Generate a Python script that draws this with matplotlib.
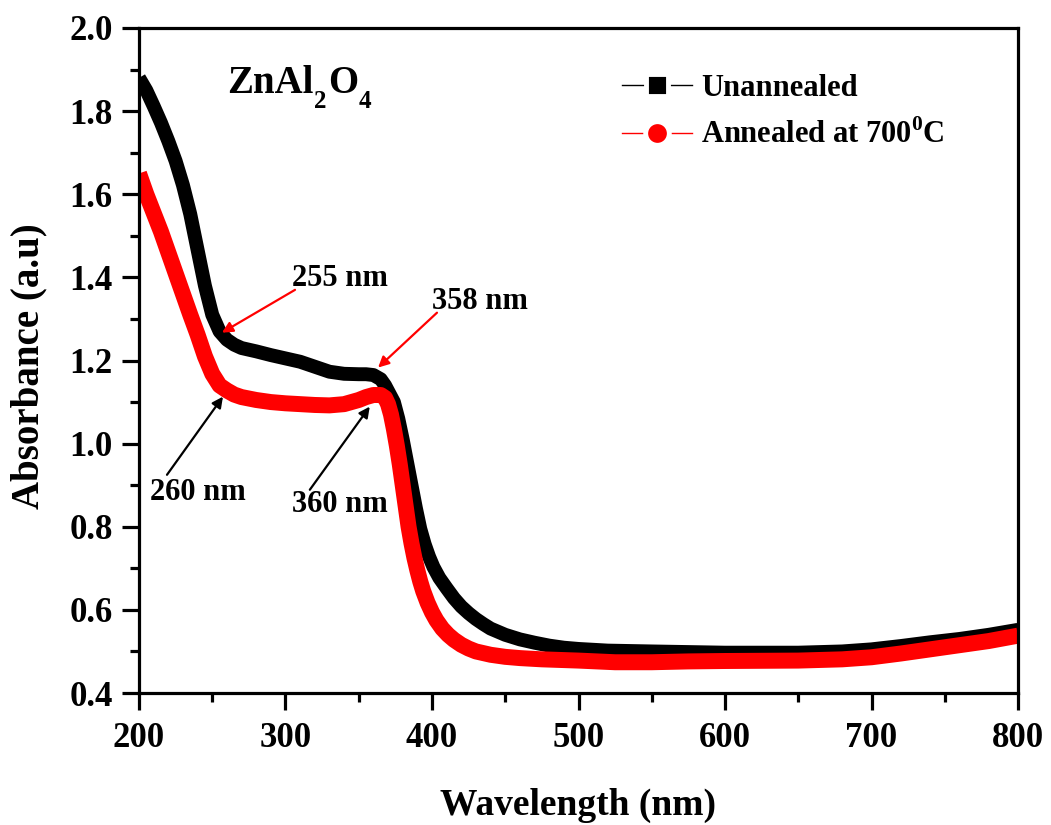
import matplotlib
matplotlib.use("Agg")
import matplotlib.pyplot as plt
from matplotlib.lines import Line2D
from matplotlib.ticker import MultipleLocator, FormatStrFormatter

plt.rcParams["font.family"] = ["Liberation Serif", "DejaVu Serif"]
plt.rcParams["font.weight"] = "bold"
plt.rcParams["mathtext.fontset"] = "custom"
plt.rcParams["mathtext.rm"] = "Liberation Serif:bold"
plt.rcParams["mathtext.bf"] = "Liberation Serif:bold"

W, H = 1051, 825

# unannealed (black)
wl_un = [200, 205, 210, 215, 220, 225, 230, 235, 240, 245, 250, 255, 260, 265,
         270, 280, 290, 300, 310, 320, 330, 340, 350, 355, 360, 365, 368, 371,
         374, 377, 380, 383, 386, 389, 392, 395, 398, 401, 405, 410, 415, 420,
         425, 430, 435, 440, 450, 460, 470, 480, 490, 500, 520, 550, 600, 650,
         680, 700, 720, 740, 760, 780, 800]
abs_un = [1.88, 1.85, 1.812, 1.772, 1.728, 1.68, 1.622, 1.552, 1.466, 1.38,
          1.31, 1.27, 1.25, 1.238, 1.23, 1.222, 1.213, 1.205, 1.197, 1.185,
          1.173, 1.168, 1.167, 1.167, 1.165, 1.155, 1.14, 1.12, 1.10, 1.06,
          1.01, 0.955, 0.90, 0.845, 0.795, 0.758, 0.728, 0.703, 0.677, 0.652,
          0.628, 0.608, 0.592, 0.578, 0.566, 0.555, 0.54, 0.529, 0.521, 0.514,
          0.509, 0.506, 0.502, 0.50, 0.497, 0.497, 0.50, 0.505, 0.513, 0.522,
          0.53, 0.54, 0.552]

# annealed at 700 C (red)
wl_an = [200, 205, 210, 215, 220, 225, 230, 235, 240, 245, 250, 255, 260, 265,
         270, 280, 290, 300, 310, 320, 330, 340, 350, 355, 360, 365, 368, 370,
         372, 374, 376, 378, 380, 382, 384, 386, 388, 390, 392, 394, 397, 400,
         403, 407, 411, 415, 420, 425, 430, 440, 450, 460, 475, 500, 525, 550,
         575, 600, 650, 680, 700, 720, 740, 760, 780, 800]
abs_an = [1.65, 1.60, 1.555, 1.51, 1.46, 1.41, 1.36, 1.31, 1.262, 1.21, 1.168,
          1.14, 1.128, 1.118, 1.112, 1.105, 1.10, 1.097, 1.095, 1.093, 1.092,
          1.095, 1.105, 1.112, 1.117, 1.117, 1.11, 1.095, 1.07, 1.035, 0.995,
          0.95, 0.90, 0.85, 0.80, 0.76, 0.725, 0.695, 0.668, 0.645, 0.617,
          0.594, 0.575, 0.555, 0.54, 0.528, 0.516, 0.507, 0.50, 0.492, 0.487,
          0.484, 0.481, 0.478, 0.474, 0.474, 0.476, 0.477, 0.478, 0.481,
          0.486, 0.495, 0.505, 0.515, 0.525, 0.538]

series_labels = ["Unannealed", r"Annealed at 700$^\mathbf{0}$C"]

# peak annotations: label, text centre, arrow tail, arrow head, colour
peaks = [
    ("255 nm", (337, 1.397), (306.5, 1.370), (256.6, 1.267), "red"),
    ("358 nm", (433, 1.341), (403.4, 1.315), (363.2, 1.183), "red"),
    ("260 nm", (240, 0.882), (219.1, 0.925), (257.3, 1.113), "black"),
    ("360 nm", (337, 0.853), (316.6, 0.889), (357.5, 1.089), "black"),
]

fig = plt.figure(figsize=(W / 100, H / 100), dpi=100)
ax = fig.add_axes([139 / W, 1 - 693 / H, 879 / W, 665 / H])

ax.plot(wl_un, abs_un, color="black", lw=10, solid_joinstyle="round",
        solid_capstyle="butt")
ax.plot(wl_an, abs_an, color="red", lw=11.5, solid_joinstyle="round",
        solid_capstyle="butt")

ax.set_xlim(200, 800)
ax.set_ylim(0.4, 2.0)
ax.xaxis.set_major_locator(MultipleLocator(100))
ax.xaxis.set_minor_locator(MultipleLocator(50))
ax.yaxis.set_major_locator(MultipleLocator(0.2))
ax.yaxis.set_minor_locator(MultipleLocator(0.1))
ax.yaxis.set_major_formatter(FormatStrFormatter("%.1f"))

for s in ax.spines.values():
    s.set_linewidth(2.3)
ax.tick_params(which="major", direction="out", length=12, width=2.3,
               labelsize=25)
ax.tick_params(which="minor", direction="out", length=6.5, width=2.3)
ax.tick_params(axis="x", which="major", pad=9)
ax.tick_params(axis="y", which="major", pad=7)

ax.set_xlabel("Wavelength (nm)", fontsize=27, fontweight="bold")
ax.set_ylabel("Absorbance (a.u)", fontsize=28, fontweight="bold")
ax.xaxis.set_label_coords(0.5, (693 - 788) / 665)
ax.yaxis.set_label_coords((47 - 139) / 879, (693 - 366) / 665)

for label, txt_pos, tail, head, col in peaks:
    ax.annotate("", xy=head, xytext=tail,
                arrowprops=dict(arrowstyle="-|>", color=col, lw=1.6,
                                mutation_scale=16, shrinkA=0, shrinkB=0))
    ax.text(txt_pos[0], txt_pos[1], label, fontsize=22, fontweight="bold",
            ha="center", va="center")

# ZnAl2O4 with lowered subscripts
renderer = fig.canvas.get_renderer()
x_px = 227
for part, size, base in [("ZnAl", 28, 93), ("2", 18, 108), ("O", 28, 93),
                         ("4", 18, 108)]:
    t = fig.text(x_px / W, 1 - base / H, part, fontsize=size,
                 fontweight="bold", va="baseline", ha="left")
    x_px = t.get_window_extent(renderer).x1 + 1

handles = [
    Line2D([], [], color="black", lw=1, marker="s", ms=15.5,
           markerfacecolor="black", markeredgecolor="white",
           markeredgewidth=3.5),
    Line2D([], [], color="red", lw=1, marker="o", ms=17,
           markerfacecolor="red", markeredgecolor="white",
           markeredgewidth=3.5),
]
fig.legend(handles, series_labels, loc="upper left",
           bbox_to_anchor=(622 / W, 1 - 74 / H),
           frameon=False, fontsize=22, handlelength=2.3, handletextpad=0.3,
           labelspacing=0.55, borderpad=0, borderaxespad=0)

fig.savefig("out.png", dpi=100)
plt.close(fig)
